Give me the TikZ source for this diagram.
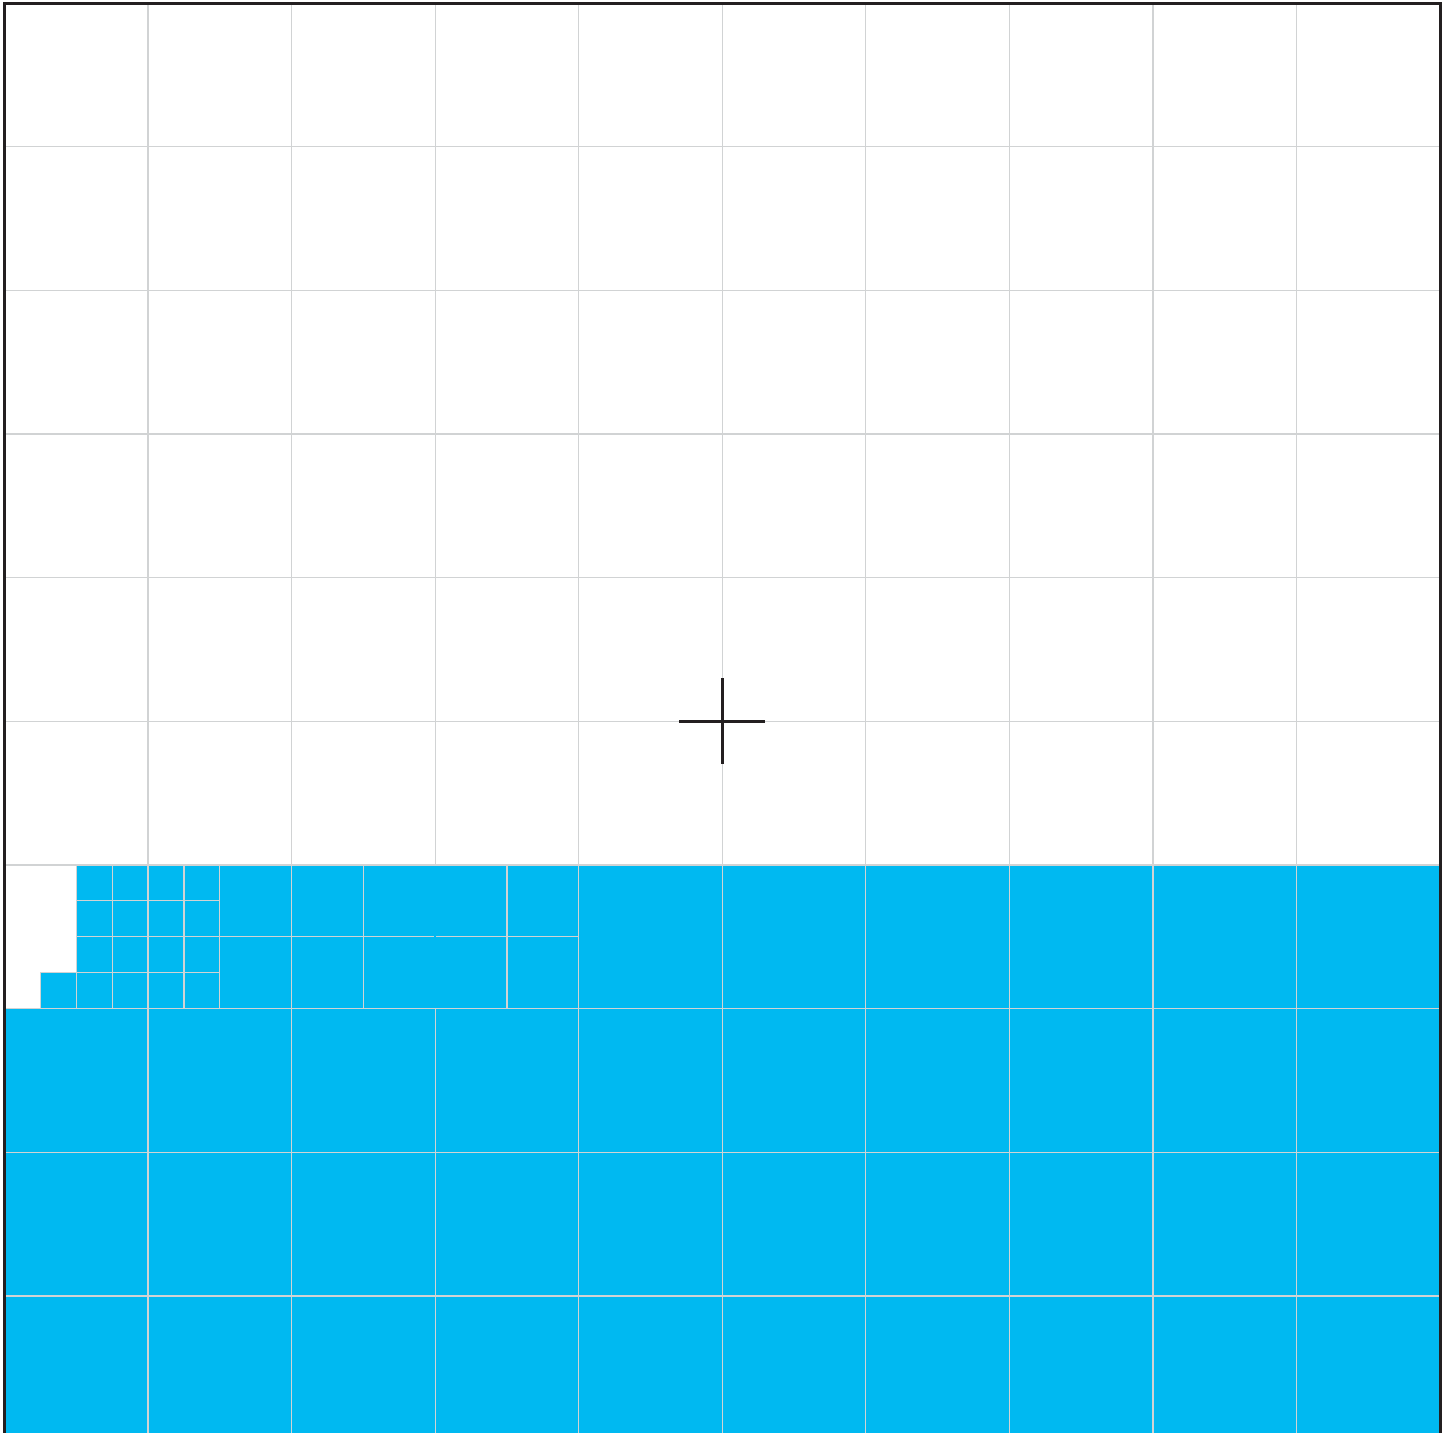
\documentclass[tikz,border=0pt]{standalone}
\definecolor{skyblue}{HTML}{00B9F1}
\definecolor{gridgrey}{HTML}{D1D3D4}
\definecolor{inkdark}{HTML}{231F20}
\begin{document}
\begin{tikzpicture}[x=1pt,y=-1pt,
  gridline/.style={draw=gridgrey,line width=1.3pt},
  frameline/.style={draw=inkdark,line width=3pt},
  crossline/.style={draw=inkdark,line width=2.6pt}]
\useasboundingbox (0,0) rectangle (1452,1433);
\clip (0,0) rectangle (1452,1433);
% blue filled area
\fill[skyblue] (4.5,864.9) rectangle (1440,1445);
\fill[white] (4.5,864.9) rectangle (76.3,1008.5);
\fill[skyblue] (40.4,972.6) rectangle (76.3,1008.5);
% main grid, upper (white) part
\foreach \i in {1,...,9}
  \draw[gridline] ({4.5+143.55*\i},3) -- ({4.5+143.55*\i},864.9);
\foreach \j in {1,...,6}
  \draw[gridline] (4.5,{3+143.65*\j}) -- (1440,{3+143.65*\j});
% main grid, lower (blue) part
\foreach \j in {7,8,9}
  \draw[gridline] (4.5,{3+143.65*\j}) -- (1440,{3+143.65*\j});
\foreach \i in {1,...,9}
  \draw[gridline] ({4.5+143.55*\i},1008.5) -- ({4.5+143.55*\i},1445);
\foreach \i in {4,...,9}
  \draw[gridline] ({4.5+143.55*\i},864.9) -- ({4.5+143.55*\i},1008.5);
% subdivided cells in the first blue row
\foreach \x in {76.3,112.2,148.05,183.9,219.8,291.6,363.4,507.0}
  \draw[gridline] (\x,864.9) -- (\x,1008.5);
\foreach \y in {900.8,936.7,972.6}
  \draw[gridline] (76.3,\y) -- (219.8,\y);
\draw[gridline] (219.8,936.7) -- (434.2,936.7);
\draw[gridline] (436.1,936.7) -- (578.7,936.7);
\draw[gridline] (40.4,1008.5) -- (40.4,972.6) -- (76.3,972.6);
% frame
\draw[frameline] (4.5,1445) -- (4.5,3) -- (1440,3) -- (1440,1445);
% centre cross
\coordinate (centre) at (722.25,721.2);
\draw[crossline] ([xshift=-43.2pt]centre) -- ([xshift=43.2pt]centre);
\draw[crossline] ([yshift=43pt]centre) -- ([yshift=-43pt]centre);
\end{tikzpicture}
\end{document}
